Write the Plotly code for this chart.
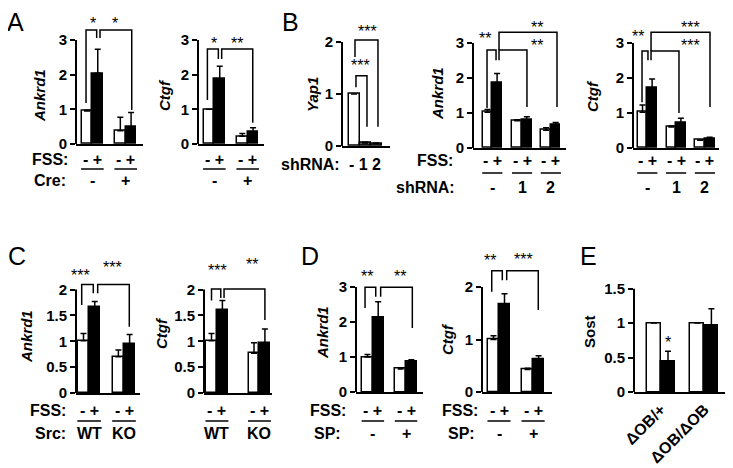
import plotly.graph_objects as go

# the page puts the plot 8 px in from the top-left corner, so the figure is
# 8 px smaller and every pixel position below is shifted by that amount
OFF = 8
W, H = 733 - OFF, 468 - OFF
FONT = "Liberation Sans, Arial, Helvetica, sans-serif"

# categories under the axes
fss = "- +"
cre = ["-", "+"]
shrna = ["-", "1", "2"]
src = ["WT", "KO"]
sp = ["-", "+"]
sost_groups = ["ΔOB/+", "ΔOB/ΔOB"]

# relative expression (mean) and upper error bar
a_ankrd1 = [0.95, 2.04, 0.38, 0.49]
a_ankrd1_err = [0.02, 0.69, 0.39, 0.42]
a_ctgf = [1.0, 1.87, 0.22, 0.35]
a_ctgf_err = [None, 0.37, 0.08, 0.12]
b_yap1 = [1.0, 0.06, 0.05]
b_yap1_err = [None, 0.01, 0.01]
b_ankrd1 = [1.02, 1.85, 0.78, 0.81, 0.51, 0.67]
b_ankrd1_err = [0.08, 0.28, 0.03, 0.08, 0.07, 0.06]
b_ctgf = [1.02, 1.72, 0.60, 0.72, 0.22, 0.25]
b_ctgf_err = [0.21, 0.25, 0.03, 0.13, 0.01, 0.06]
c_ankrd1 = [1.01, 1.66, 0.70, 0.94]
c_ankrd1_err = [0.14, 0.11, 0.13, 0.19]
c_ctgf = [1.01, 1.60, 0.77, 0.97]
c_ctgf_err = [0.14, 0.19, 0.20, 0.27]
d_ankrd1 = [1.0, 2.13, 0.66, 0.86]
d_ankrd1_err = [0.07, 0.45, 0.03, 0.06]
d_ctgf = [1.0, 1.68, 0.43, 0.62]
d_ctgf_err = [0.07, 0.19, 0.02, 0.07]
e_sost = [1.0, 0.44, 1.0, 0.96]
e_sost_err = [None, 0.15, None, 0.25]


def fx(px):
    return (px - OFF) / W


def fy(py):
    return 1 - (py - OFF) / H


wb = ["white", "black"]
pair4 = [(0, 1), (2, 3)]
pair6 = [(0, 1), (2, 3), (4, 5)]

# layout of each small chart (pixel geometry + significance brackets)
panels = [
    dict(vals=a_ankrd1, errs=a_ankrd1_err, colors=wb * 2, pos=[0, 1, 3.1, 4.1], groups=pair4,
         left=76, right=143, c0=87, unit=10.75, zero=144, ppu=34.67, ticks=[0, 1, 2, 3],
         title="<b><i>Ankrd1</i></b>", title_xy=(39, 96),
         brackets=[(-0.09, 0.9, 3.29, 1.18, 3.06), (1.21, 4.16, 3.29, 3.06, 0.98)],
         stars=[(0.55, 3.58, "*"), (2.6, 3.58, "*")],
         row1=dict(y=159, label="FSS:", lx=70),
         row2=dict(y=181, label="Cre:", lx=68, texts=cre), uline=169),
    dict(vals=a_ctgf, errs=a_ctgf_err, colors=wb * 2, pos=[0, 1, 3.1, 4.1], groups=pair4,
         left=198, right=264, c0=209, unit=10.75, zero=144, ppu=34.67, ticks=[0, 1, 2, 3],
         title="<b><i>Ctgf</i></b>", title_xy=(164, 95),
         brackets=[(-0.15, 0.87, 2.74, 1.27, 2.45), (1.18, 4.07, 2.74, 2.45, 0.61)],
         stars=[(0.47, 3.0, "*"), (2.65, 3.0, "**")],
         row1=dict(y=159, label=None, lx=0),
         row2=dict(y=181, label=None, lx=0, texts=cre), uline=169),
    dict(vals=b_yap1, errs=b_yap1_err, colors=["white", "#5a5a5a", "#5a5a5a"], pos=[0, 1, 2], groups=[],
         left=342, right=390, c0=354, unit=11, zero=146, ppu=52, ticks=[0, 1, 2],
         title="<b><i>Yap1</i></b>", title_xy=(312, 95),
         brackets=[(0.09, 2.18, 2.04, 1.71, 0.37), (0.18, 1.18, 1.35, 1.13, 0.37)],
         stars=[(1.27, 2.27, "***"), (0.55, 1.62, "***")],
         row1=None, row2=None, uline=None,
         barrow=dict(y=164, label="shRNA:", lx=342, texts=shrna)),
    dict(vals=b_ankrd1, errs=b_ankrd1_err, colors=wb * 3, pos=[0, 1, 3.1, 4.1, 6.1, 7.1], groups=pair6,
         left=473, right=566, c0=487.5, unit=9.6, zero=148, ppu=35, ticks=[0, 1, 2, 3],
         title="<b><i>Ankrd1</i></b>", title_xy=(437, 94),
         brackets=[(-0.05, 0.89, 2.8, 1.14, 2.51), (1.2, 4.11, 2.8, 2.51, 1.17),
                   (1.2, 7.24, 3.31, 2.8, 1.17)],
         stars=[(-0.26, 3.23, "**"), (5.16, 3.03, "**"), (5.16, 3.57, "**")],
         row1=dict(y=161, label="FSS:", lx=455),
         row2=dict(y=187, label="shRNA:", lx=457, texts=shrna), uline=173),
    dict(vals=b_ctgf, errs=b_ctgf_err, colors=wb * 3, pos=[0, 1, 3, 4, 6, 7], groups=pair6,
         left=633, right=719, c0=642.5, unit=9.6, zero=148, ppu=35, ticks=[0, 1, 2, 3],
         title="<b><i>Ctgf</i></b>", title_xy=(592, 96),
         brackets=[(-0.05, 0.57, 2.77, 1.31, 2.51), (0.89, 3.8, 2.77, 2.51, 1.0),
                   (0.89, 7.03, 3.31, 2.77, 1.17)],
         stars=[(-0.47, 3.29, "**"), (4.95, 3.03, "***"), (4.95, 3.57, "***")],
         row1=dict(y=161, label=None, lx=0),
         row2=dict(y=187, label=None, lx=0, texts=shrna), uline=173),
    dict(vals=c_ankrd1, errs=c_ankrd1_err, colors=wb * 2, pos=[0, 1, 3.1, 4.1], groups=pair4,
         left=76, right=140, c0=83.5, unit=11.25, zero=393, ppu=51.7, ticks=[0, 0.5, 1, 1.5, 2],
         title="<b><i>Ankrd1</i></b>", title_xy=(26, 337),
         brackets=[(-0.16, 0.87, 2.1, 1.7, 1.93), (1.26, 4.07, 2.1, 1.93, 1.28)],
         stars=[(-0.27, 2.35, "***"), (2.62, 2.51, "***")],
         row1=dict(y=410, label="FSS:", lx=68),
         row2=dict(y=433, label="Src:", lx=68, texts=src), uline=421),
    dict(vals=c_ctgf, errs=c_ctgf_err, colors=wb * 2, pos=[0, 1, 3.9, 4.9], groups=pair4,
         left=204, right=272, c0=211.5, unit=10.9, zero=393, ppu=51.7, ticks=[0, 0.5, 1, 1.5, 2],
         title="<b><i>Ctgf</i></b>", title_xy=(161, 333),
         brackets=[(0.0, 0.85, 2.01, 1.79, 1.84), (1.15, 4.9, 2.01, 1.84, 1.41)],
         stars=[(0.55, 2.44, "***"), (3.7, 2.57, "**")],
         row1=dict(y=410, label=None, lx=0),
         row2=dict(y=433, label=None, lx=0, texts=src), uline=421),
    dict(vals=d_ankrd1, errs=d_ankrd1_err, colors=wb * 2, pos=[0, 1, 3.1, 4.1], groups=pair4,
         left=356, right=423, c0=367.5, unit=10.7, zero=392, ppu=35, ticks=[0, 1, 2, 3],
         title="<b><i>Ankrd1</i></b>", title_xy=(322, 333),
         brackets=[(-0.23, 0.77, 2.99, 2.4, 2.72), (1.23, 4.19, 2.99, 2.72, 1.83)],
         stars=[(-0.07, 3.41, "**"), (3.04, 3.41, "**")],
         row1=dict(y=410, label="FSS:", lx=348),
         row2=dict(y=433, label="SP:", lx=343, texts=sp), uline=421),
    dict(vals=d_ctgf, errs=d_ctgf_err, colors=wb * 2, pos=[0, 1, 3.1, 4.1], groups=pair4,
         left=482, right=552, c0=493.5, unit=11, zero=392, ppu=52.5, ticks=[0, 1, 2],
         title="<b><i>Ctgf</i></b>", title_xy=(447, 339),
         brackets=[(-0.16, 0.8, 2.31, 1.91, 2.13), (1.2, 4.07, 2.31, 2.13, 1.56)],
         stars=[(-0.32, 2.59, "**"), (2.77, 2.6, "***")],
         row1=dict(y=410, label="FSS:", lx=480),
         row2=dict(y=433, label="SP:", lx=477, texts=sp), uline=421),
    dict(vals=e_sost, errs=e_sost_err, colors=wb * 2, pos=[0, 1, 3.1, 4.1], groups=pair4,
         left=634, right=728, c0=654, unit=14, zero=392, ppu=68.9, ticks=[0, 0.5, 1, 1.5],
         title="<b>Sost</b>", title_xy=(589, 332),
         brackets=[], stars=[(1.0, 0.78, "*")],
         row1=None, row2=None, uline=None, xlabels=sost_groups),
]

letters = [("A", 16, 22), ("B", 290, 22), ("C", 17, 256), ("D", 310, 256), ("E", 588, 256)]

fig = go.Figure()
shapes, annots, axes = [], [], {}
bold = dict(family=FONT, size=16, color="black", weight="bold")
tickbold = dict(family=FONT, size=15, color="black", weight="bold")


def note(x, y, text, xref="paper", yref="paper", xanchor="center", font=bold, **kw):
    annots.append(dict(x=x, y=y, xref=xref, yref=yref, text=text, showarrow=False,
                       xanchor=xanchor, yanchor="middle", font=font, **kw))


for n, p in enumerate(panels, start=1):
    sfx = "" if n == 1 else str(n)
    xa, ya = "x" + sfx, "y" + sfx
    ytop = max(p["ticks"] + [b[2] for b in p["brackets"]] + [s[1] for s in p["stars"]]) + 0.12
    xr = [(p["left"] - p["c0"]) / p["unit"], (p["right"] - p["c0"]) / p["unit"]]
    gx = [(p["pos"][i] + p["pos"][j]) / 2 for i, j in p["groups"]]

    fig.add_trace(go.Bar(
        x=p["pos"], y=p["vals"], width=1, xaxis=xa, yaxis=ya,
        marker=dict(color=p["colors"], line=dict(color="black", width=1.5)),
        error_y=dict(type="data", symmetric=False, array=p["errs"],
                     arrayminus=[0] * len(p["vals"]), color="black", thickness=1.5, width=3),
        showlegend=False, hoverinfo="skip",
    ))

    xax = dict(domain=[fx(p["left"]), fx(p["right"])], range=xr, anchor=ya, automargin=False,
               showline=True, linecolor="black", linewidth=2, ticks="",
               showticklabels=False, showgrid=False, zeroline=False)
    if "xlabels" in p:
        xax.update(showticklabels=True, tickvals=gx, ticktext=p["xlabels"],
                   tickangle=-45, tickfont=bold)
    axes["xaxis" + sfx] = xax
    axes["yaxis" + sfx] = dict(
        domain=[fy(p["zero"]), fy(p["zero"] - ytop * p["ppu"])], range=[0, ytop], anchor=xa,
        automargin=False, showline=False, ticks="outside", ticklen=5, tickwidth=2,
        tickcolor="black", tickvals=p["ticks"], ticktext=[f"<b>{t:g}</b>" for t in p["ticks"]],
        tickfont=tickbold, showgrid=False, zeroline=False)

    # y axis line only up to the last tick
    shapes.append(dict(type="line", xref=xa + " domain", x0=0, x1=0, yref=ya, y0=0,
                       y1=p["ticks"][-1], line=dict(color="black", width=2)))

    for xl, xrr, yt, yl, yr in p["brackets"]:
        shapes.append(dict(type="path", xref=xa, yref=ya,
                           path=f"M {xl},{yl} V {yt} H {xrr} V {yr}",
                           line=dict(color="black", width=1.5)))
    for sx, sy, st in p["stars"]:
        note(sx, sy, st, xref=xa, yref=ya, yshift=-4,
             font=dict(family=FONT, size=16, color="black"))

    note(fx(p["title_xy"][0]), fy(p["title_xy"][1]), p["title"], textangle=-90,
         font=dict(family=FONT, size=15, color="black"))

    r1 = p["row1"]
    if r1:
        for x in gx:
            note(x, fy(r1["y"]), fss, xref=xa)
        if r1["label"]:
            note(fx(r1["lx"]), fy(r1["y"]), r1["label"], xanchor="right")
    r2 = p["row2"]
    if r2:
        for x, t in zip(gx, r2["texts"]):
            note(x, fy(r2["y"]), t, xref=xa)
        if r2["label"]:
            note(fx(r2["lx"]), fy(r2["y"]), r2["label"], xanchor="right")
    br = p.get("barrow")
    if br:
        # one line of text under the bars, centred on the middle bar
        note(p["pos"][len(p["pos"]) // 2], fy(br["y"]), " ".join(br["texts"]), xref=xa)
        note(fx(br["lx"]), fy(br["y"]), br["label"], xanchor="right")
    if p["uline"]:
        for i, j in p["groups"]:
            shapes.append(dict(type="line", xref=xa, yref="paper",
                               x0=p["pos"][i] - 0.55, x1=p["pos"][j] + 0.55,
                               y0=fy(p["uline"]), y1=fy(p["uline"]),
                               line=dict(color="black", width=1.5)))

for t, x, y in letters:
    note(fx(x), fy(y), t, font=dict(family=FONT, size=25, color="black"))

fig.update_layout(
    width=W, height=H,
    margin=dict(l=0, r=0, t=0, b=0, pad=0, autoexpand=False),
    paper_bgcolor="white", plot_bgcolor="rgba(0,0,0,0)",
    font=dict(family=FONT, color="black"),
    bargap=0, shapes=shapes, annotations=annots, showlegend=False,
    **axes,
)

fig.write_html("out.html")
